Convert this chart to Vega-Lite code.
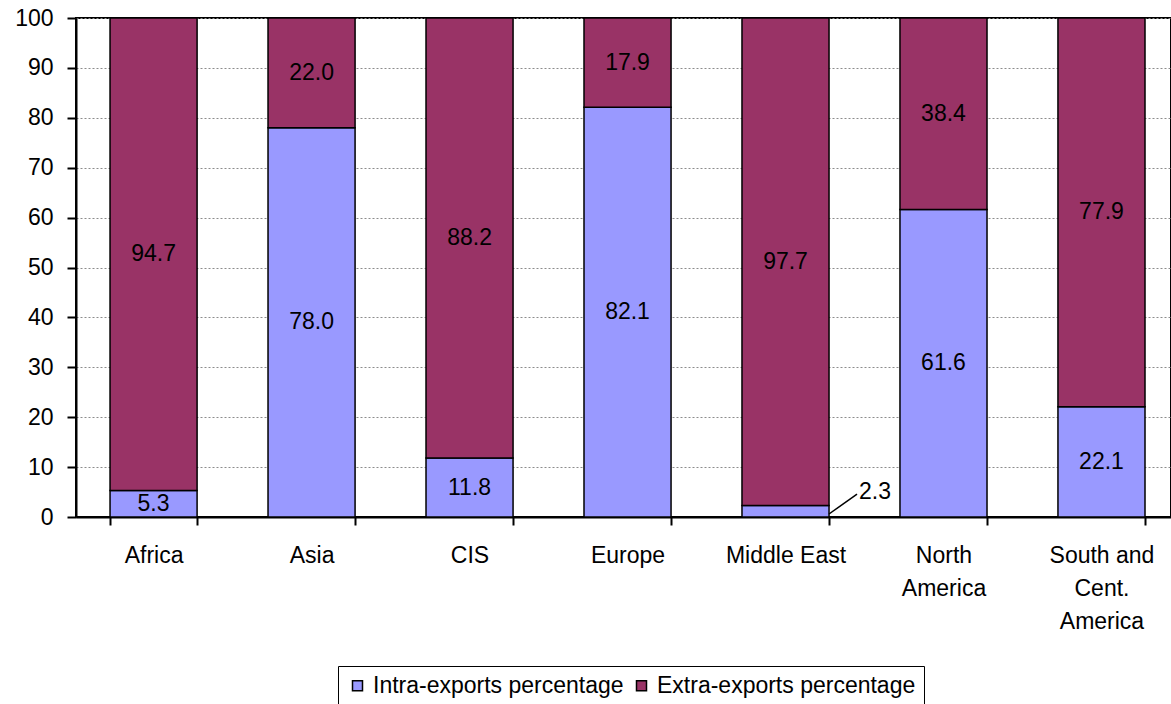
{
  "$schema": "https://vega.github.io/schema/vega-lite/v6.json",
  "width": 1095,
  "height": 499,
  "autosize": {"type": "none"},
  "padding": {"left": 76, "top": 18, "right": 0, "bottom": 187},
  "background": "white",
  "config": {
    "font": "Liberation Sans",
    "view": {"stroke": "black", "strokeWidth": 2},
    "axis": {"labelColor": "black", "labelFont": "Liberation Sans", "labelFontSize": 23, "domainColor": "black", "tickColor": "black"},
    "legend": {"labelFont": "Liberation Sans"}
  },
  "data": {
    "values": [
      {"region": "Africa", "series": "Intra-exports percentage", "value": 5.3},
      {"region": "Africa", "series": "Extra-exports percentage", "value": 94.7},
      {"region": "Asia", "series": "Intra-exports percentage", "value": 78.0},
      {"region": "Asia", "series": "Extra-exports percentage", "value": 22.0},
      {"region": "CIS", "series": "Intra-exports percentage", "value": 11.8},
      {"region": "CIS", "series": "Extra-exports percentage", "value": 88.2},
      {"region": "Europe", "series": "Intra-exports percentage", "value": 82.1},
      {"region": "Europe", "series": "Extra-exports percentage", "value": 17.9},
      {"region": "Middle East", "series": "Intra-exports percentage", "value": 2.3},
      {"region": "Middle East", "series": "Extra-exports percentage", "value": 97.7},
      {"region": "North America", "series": "Intra-exports percentage", "value": 61.6},
      {"region": "North America", "series": "Extra-exports percentage", "value": 38.4},
      {"region": "South and Cent. America", "series": "Intra-exports percentage", "value": 22.1},
      {"region": "South and Cent. America", "series": "Extra-exports percentage", "value": 77.9}
    ]
  },
  "transform": [
    {"stack": "value", "groupby": ["region"], "sort": [{"field": "series", "order": "descending"}], "as": ["y0", "y1"]}
  ],
  "encoding": {
    "x": {
      "field": "region",
      "type": "nominal",
      "sort": null,
      "title": null,
      "scale": {"paddingInner": 0.449, "paddingOuter": 0.19, "align": 0.567},
      "axis": {
        "labelAngle": 0,
        "domainWidth": 2,
        "tickSize": 8,
        "tickWidth": 2,
        "tickBand": "extent",
        "labelPadding": 19,
        "labelLineHeight": 33,
        "grid": false,
        "labelExpr": "datum.label == 'North America' ? ['North', 'America'] : datum.label == 'South and Cent. America' ? ['South and', 'Cent.', 'America'] : datum.label"
      }
    }
  },
  "layer": [
    {
      "mark": {"type": "bar", "stroke": "black", "strokeWidth": 1.5},
      "encoding": {
        "y": {
          "field": "y0",
          "type": "quantitative",
          "title": null,
          "scale": {"domain": [0, 100], "nice": false},
          "axis": {
            "values": [0, 10, 20, 30, 40, 50, 60, 70, 80, 90, 100],
            "domainWidth": 2,
            "tickSize": 9,
            "tickWidth": 2,
            "labelPadding": 14,
            "grid": true,
            "gridColor": "#8c8c8c",
            "gridDash": [2, 2],
            "gridWidth": 1
          }
        },
        "y2": {"field": "y1"},
        "color": {
          "field": "series",
          "type": "nominal",
          "scale": {
            "domain": ["Intra-exports percentage", "Extra-exports percentage"],
            "range": ["#9999ff", "#993366"]
          },
          "legend": {
            "title": null,
            "orient": "none",
            "legendX": 262,
            "legendY": 648,
            "direction": "horizontal",
            "strokeColor": "black",
            "padding": 8,
            "labelFontSize": 23,
            "labelLimit": 400,
            "labelColor": "black",
            "symbolType": "square",
            "symbolSize": 100,
            "symbolStrokeColor": "black",
            "symbolStrokeWidth": 1.5,
            "symbolOpacity": 1,
            "columnPadding": 6,
            "labelOffset": 4
          }
        }
      }
    },
    {
      "transform": [
        {"filter": "!(datum.region == 'Middle East' && datum.series == 'Intra-exports percentage')"},
        {"fold": ["y0", "y1"], "as": ["edge", "pos"]}
      ],
      "mark": {"type": "text", "fontSize": 23, "color": "black", "baseline": "middle"},
      "encoding": {
        "y": {"field": "pos", "aggregate": "mean", "type": "quantitative", "title": null},
        "text": {"field": "value", "type": "quantitative", "format": ".1f"},
        "detail": {"field": "series"}
      }
    },
    {
      "transform": [
        {"filter": "datum.region == 'Middle East' && datum.series == 'Intra-exports percentage'"}
      ],
      "mark": {"type": "rule", "color": "black", "strokeWidth": 1.5, "x2Offset": 28},
      "encoding": {
        "x": {"field": "region", "type": "nominal", "bandPosition": 1},
        "x2": {"field": "region", "bandPosition": 1},
        "y": {"datum": 0.6, "type": "quantitative"},
        "y2": {"datum": 4.6}
      }
    },
    {
      "transform": [
        {"filter": "datum.region == 'Middle East' && datum.series == 'Intra-exports percentage'"}
      ],
      "mark": {"type": "text", "fontSize": 23, "color": "black", "baseline": "middle", "dx": 46, "dy": -14},
      "encoding": {
        "x": {"field": "region", "type": "nominal", "bandPosition": 1},
        "y": {"field": "value", "type": "quantitative", "title": null},
        "text": {"field": "value", "type": "quantitative", "format": ".1f"}
      }
    }
  ]
}
